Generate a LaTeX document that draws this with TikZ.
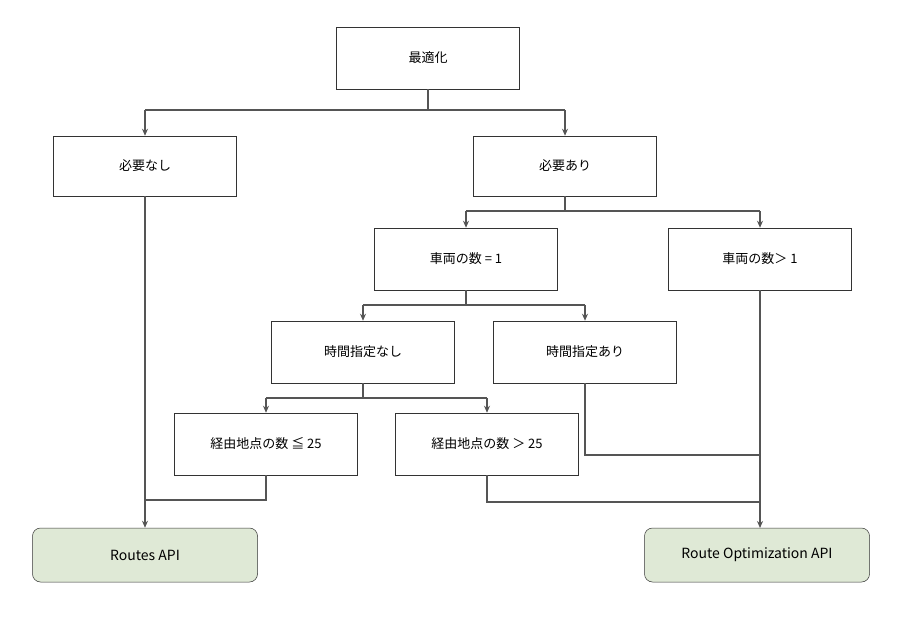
\documentclass[tikz,border=0pt]{standalone}
\usepackage{fontspec}
\setmainfont{Noto Sans CJK JP}
\usetikzlibrary{arrows.meta}
\definecolor{ln}{HTML}{555555}
\definecolor{gr}{HTML}{DFE9D6}
\begin{document}
\begin{tikzpicture}[x=1pt,y=-1pt,
 box/.style={draw=black!80,line width=0.5pt,minimum width=183pt,minimum height=62pt,font=\fontsize{13}{15}\selectfont,inner sep=0pt},
 api/.style={box,minimum width=225pt,minimum height=54pt,rounded corners=8pt,fill=gr,font=\fontsize{14}{16}\selectfont},
 con/.style={draw=ln,line width=1.3pt},
 arr/.style={con,-{Stealth[length=7pt,width=6pt]}}]
\useasboundingbox (0,0) rectangle (900,624);
\node[box] (opt) at (428,58) {最適化};
\node[box,minimum height=60pt] (nn) at (145,166) {必要なし};
\node[box,minimum height=60pt] (na) at (565,166) {必要あり};
\node[box] (v1) at (466,259) {車両の数 = 1};
\node[box] (vm) at (760,259) {車両の数＞ 1};
\node[box] (tn) at (363,352) {時間指定なし};
\node[box] (ta) at (585,352) {時間指定あり};
\node[box] (w1) at (266,444) {経由地点の数 ≦ 25};
\node[box] (w2) at (487,444) {経由地点の数 ＞ 25};
\node[api] (ra) at (145,555) {Routes API};
\node[api] (ro) at (757,555) {Route Optimization API};
\draw[con] (opt.south) -- (428,110) -- (145,110);
\draw[con] (428,110) -- (565,110);
\draw[arr] (145,110) -- (nn.north);
\draw[arr] (565,110) -- (na.north);
\draw[con] (na.south) -- (565,211) -- (466,211);
\draw[con] (565,211) -- (760,211);
\draw[arr] (466,211) -- (v1.north);
\draw[arr] (760,211) -- (vm.north);
\draw[con] (v1.south) -- (466,305) -- (363,305);
\draw[con] (466,305) -- (585,305);
\draw[arr] (363,305) -- (tn.north);
\draw[arr] (585,305) -- (ta.north);
\draw[con] (tn.south) -- (363,398) -- (266,398);
\draw[con] (363,398) -- (487,398);
\draw[arr] (266,398) -- (w1.north);
\draw[arr] (487,398) -- (w2.north);
\draw[arr] (nn.south) -- (ra.north);
\draw[con] (w1.south) -- (266,500) -- (145,500);
\draw[arr] (vm.south) -- (760,528);
\draw[con] (w2.south) -- (487,502) -- (760,502);
\draw[con] (ta.south) -- (585,455) -- (760,455);
\end{tikzpicture}
\end{document}
